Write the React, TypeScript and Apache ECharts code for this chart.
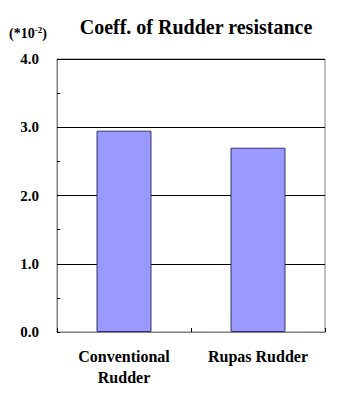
import React, { useEffect, useRef } from "react";
import * as echarts from "echarts";

const categories = ["Conventional\nRudder", "Rupas Rudder"];
const values = [2.95, 2.7];
const yTicks = [0, 1, 2, 3, 4];

const FONT = "Liberation Serif";

export default function App() {
  const ref = useRef<HTMLDivElement>(null);
  useEffect(() => {
    const chart = echarts.init(ref.current!, null, { renderer: "svg" });
    chart.setOption({
      animation: false,
      backgroundColor: "#fff",
      textStyle: { fontFamily: FONT },
      title: {
        text: "Coeff. of Rudder resistance",
        left: 191,
        textAlign: "center",
        top: 12,
        textStyle: { fontFamily: FONT, fontWeight: "bold", fontSize: 20, color: "#000" },
      },
      graphic: [
        {
          type: "text",
          left: 9,
          top: 25,
          style: {
            text: "(*10{s|-2})",
            rich: {
              s: { fontSize: 9, fontFamily: FONT, fontWeight: "bold", verticalAlign: "top", padding: [0, 0, 7, 0] },
            },
            fontFamily: FONT,
            fontWeight: "bold",
            fontSize: 14,
            fill: "#000",
          },
        },
      ],
      grid: { left: 57, right: 29, top: 59, bottom: 69, show: true, borderColor: "#808080", borderWidth: 1 },
      xAxis: {
        type: "category",
        data: categories,
        axisLine: { lineStyle: { color: "#808080" } },
        axisTick: { show: true, inside: true, length: 4, lineStyle: { color: "#000" } },
        axisLabel: {
          fontFamily: FONT,
          fontWeight: "bold",
          fontSize: 16,
          lineHeight: 21,
          color: "#000",
          margin: 14,
        },
      },
      yAxis: {
        type: "value",
        min: yTicks[0],
        max: yTicks[yTicks.length - 1],
        interval: 1,
        axisLine: { show: true, lineStyle: { color: "#808080" } },
        axisTick: { show: true, inside: true, length: 3, lineStyle: { color: "#000" } },
        minorTick: { show: true, splitNumber: 2, length: 3, lineStyle: { color: "#000" } },
        splitLine: { show: true, lineStyle: { color: "#000", width: 1 } },
        axisLabel: {
          fontFamily: FONT,
          fontWeight: "bold",
          fontSize: 15,
          color: "#000",
          margin: 18,
          formatter: (v: number) => v.toFixed(1),
        },
      },
      series: [
        {
          type: "bar",
          data: values,
          barWidth: "41%",
          itemStyle: { color: "#9999FF", borderColor: "#333366", borderWidth: 1 },
        },
      ],
    });
    return () => chart.dispose();
  }, []);
  return <div ref={ref} style={{ width: 354, height: 401, position: "absolute", left: 0, top: 0 }} />;
}
